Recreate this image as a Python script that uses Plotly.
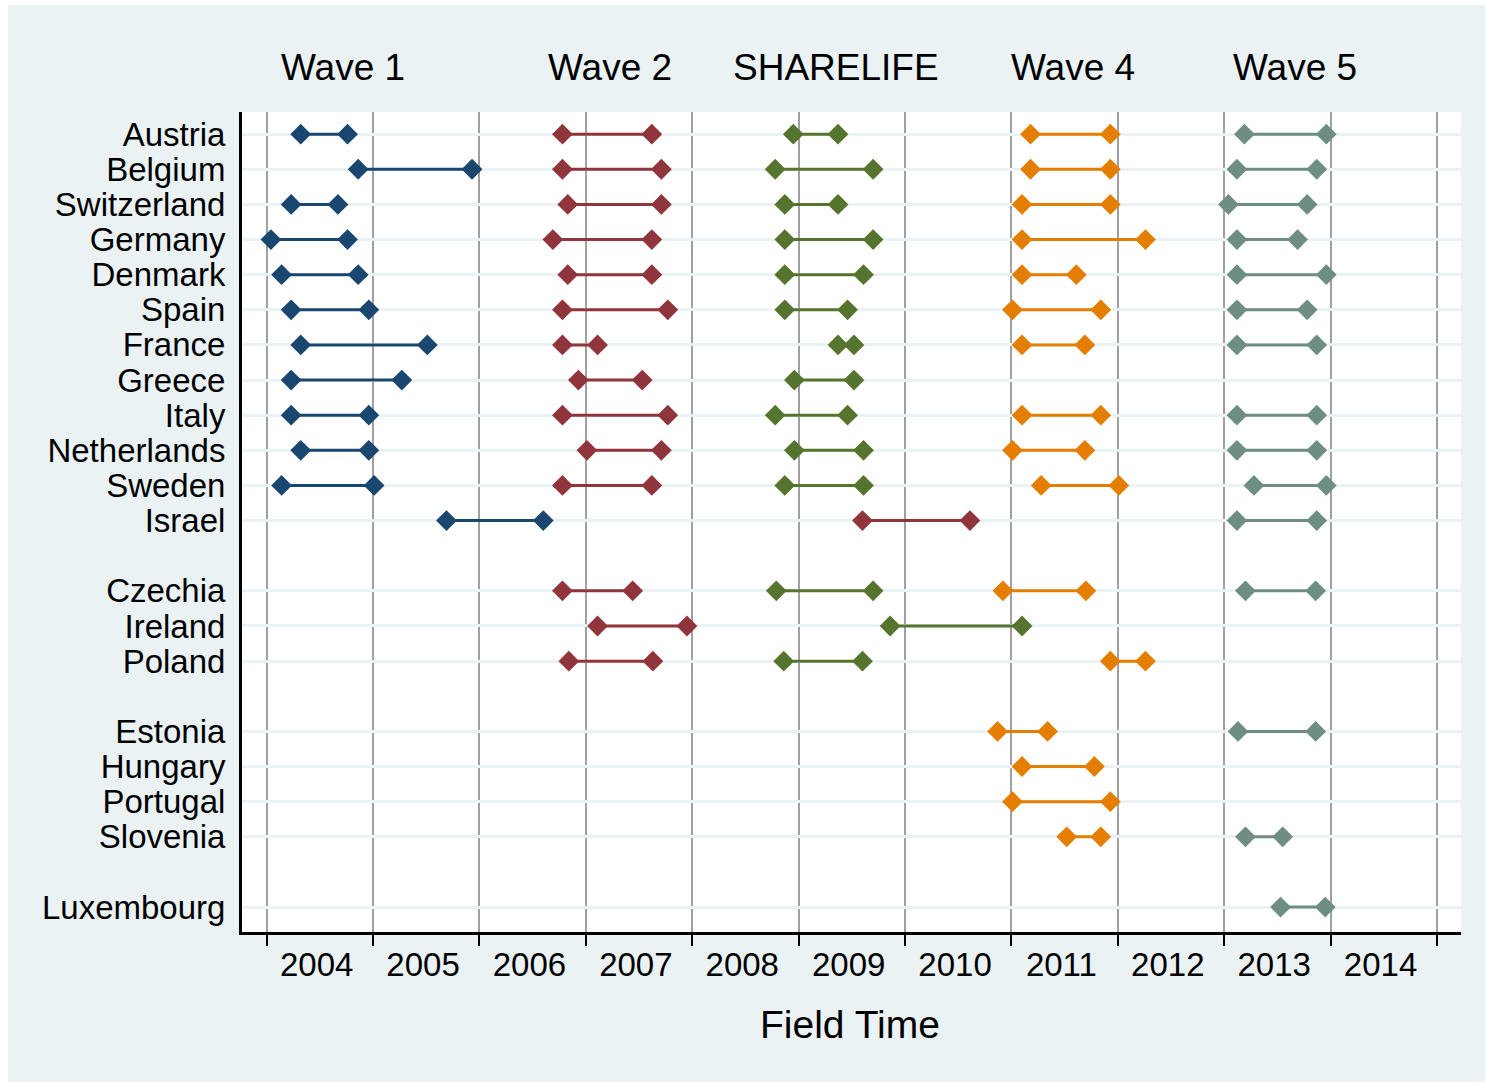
import plotly.graph_objects as go

countries = ["Austria", "Belgium", "Switzerland", "Germany", "Denmark", "Spain",
             "France", "Greece", "Italy", "Netherlands", "Sweden", "Israel",
             "Czechia", "Ireland", "Poland",
             "Estonia", "Hungary", "Portugal", "Slovenia",
             "Luxembourg"]
rows = [0, 1, 2, 3, 4, 5, 6, 7, 8, 9, 10, 11,
        13, 14, 15,
        17, 18, 19, 20,
        22]

N = None
wave1_start = [2004.32, 2004.86, 2004.23, 2004.04, 2004.14, 2004.23, 2004.32, 2004.23, 2004.23, 2004.32, 2004.14, 2005.69,
               N, N, N, N, N, N, N, N]
wave1_end = [2004.76, 2005.93, 2004.67, 2004.76, 2004.86, 2004.96, 2005.51, 2005.27, 2004.96, 2004.96, 2005.01, 2006.60,
             N, N, N, N, N, N, N, N]

wave2_start = [2006.78, 2006.78, 2006.83, 2006.69, 2006.83, 2006.78, 2006.78, 2006.93, 2006.78, 2007.01, 2006.78, 2009.60,
               2006.78, 2007.11, 2006.84, N, N, N, N, N]
wave2_end = [2007.62, 2007.71, 2007.71, 2007.62, 2007.62, 2007.77, 2007.11, 2007.53, 2007.77, 2007.71, 2007.62, 2010.61,
             2007.44, 2007.95, 2007.63, N, N, N, N, N]

sharelife_start = [2008.95, 2008.78, 2008.87, 2008.87, 2008.87, 2008.87, 2009.37, 2008.96, 2008.78, 2008.96, 2008.87, N,
                   2008.79, 2009.86, 2008.86, N, N, N, N, N]
sharelife_end = [2009.37, 2009.70, 2009.37, 2009.70, 2009.61, 2009.46, 2009.52, 2009.52, 2009.46, 2009.61, 2009.61, N,
                 2009.70, 2011.10, 2009.60, N, N, N, N, N]

wave4_start = [2011.18, 2011.18, 2011.10, 2011.10, 2011.10, 2011.01, 2011.10, N, 2011.10, 2011.01, 2011.28, N,
               2010.92, N, 2011.93, 2010.87, 2011.10, 2011.01, 2011.52, N]
wave4_end = [2011.93, 2011.93, 2011.93, 2012.26, 2011.61, 2011.84, 2011.69, N, 2011.84, 2011.69, 2012.01, N,
             2011.70, N, 2012.26, 2011.34, 2011.78, 2011.93, 2011.84, N]

wave5_start = [2013.19, 2013.12, 2013.04, 2013.12, 2013.12, 2013.12, 2013.12, N, 2013.12, 2013.12, 2013.28, 2013.12,
               2013.20, N, N, 2013.13, N, N, 2013.20, 2013.53]
wave5_end = [2013.96, 2013.87, 2013.78, 2013.69, 2013.96, 2013.78, 2013.87, N, 2013.87, 2013.87, 2013.96, 2013.87,
             2013.86, N, N, 2013.86, N, N, 2013.55, 2013.95]

wave_labels = ["Wave 1", "Wave 2", "SHARELIFE", "Wave 4", "Wave 5"]
wave_label_x = [2004.72, 2007.23, 2009.35, 2011.58, 2013.67]

year_ticks = [2004, 2005, 2006, 2007, 2008, 2009, 2010, 2011, 2012, 2013, 2014]
year_bounds = [2004, 2005, 2006, 2007, 2008, 2009, 2010, 2011, 2012, 2013, 2014, 2015]

colors = ["#1a476f", "#90353b", "#55752f", "#e37e00", "#6e8e84"]
# Israel's second wave segment (2009-2010) is drawn with the Wave 2 colour
series = [(wave1_start, wave1_end), (wave2_start, wave2_end), (sharelife_start, sharelife_end),
          (wave4_start, wave4_end), (wave5_start, wave5_end)]

FONT = "Liberation Sans, Arial, sans-serif"
fig = go.Figure()

for (st, en), col, name in zip(series, colors, wave_labels):
    xs, ys = [], []
    for s, e, r in zip(st, en, rows):
        if s is None:
            continue
        xs += [s, e, None]
        ys += [r, r, None]
    fig.add_trace(go.Scatter(
        x=xs, y=ys, mode="lines+markers", name=name,
        line=dict(color=col, width=3),
        marker=dict(symbol="diamond", size=16, color=col),
        showlegend=False, connectgaps=False,
    ))

for lab, xv in zip(wave_labels, wave_label_x):
    fig.add_annotation(x=xv, xref="x", y=1.0537, yref="paper", text=lab,
                       showarrow=False, xanchor="center", yanchor="middle",
                       font=dict(family=FONT, size=37, color="black"))

fig.add_annotation(x=0.4985, xref="paper", y=-0.1134, yref="paper", text="Field Time",
                   showarrow=False, xanchor="center", yanchor="middle",
                   font=dict(family=FONT, size=39, color="black"))

# background: light graph region with thin white border, white plot region
fig.add_shape(type="rect", xref="paper", yref="paper", x0=-0.192, x1=1.0197, y0=-0.183, y1=1.1305,
              fillcolor="#eaf2f3", line=dict(width=0), layer="below")
fig.add_shape(type="rect", xref="paper", yref="paper", x0=0, x1=1, y0=0, y1=1,
              fillcolor="white", line=dict(width=0), layer="below")

fig.update_layout(
    width=1486, height=1085,
    margin=dict(l=242, r=25, t=112, b=153),
    paper_bgcolor="white", plot_bgcolor="white",
    font=dict(family=FONT, color="black"),
    xaxis=dict(
        range=[2003.768, 2015.226],
        tickmode="array",
        tickvals=[y + 0.47 for y in year_ticks],
        ticktext=[str(y) for y in year_ticks],
        ticks="outside", ticklen=1, tickcolor="rgba(0,0,0,0)",
        tickfont=dict(family=FONT, size=33, color="black"),
        showgrid=False, zeroline=False,
        showline=True, linecolor="black", linewidth=3,
        minor=dict(tickmode="array", tickvals=year_bounds, ticks="outside", ticklen=11,
                   tickwidth=2, tickcolor="black", showgrid=True,
                   gridcolor="#a0a0a0", gridwidth=2),
    ),
    yaxis=dict(
        range=[22.71, -0.63],
        tickmode="array", tickvals=rows, ticktext=countries,
        ticks="outside", ticklen=7, tickcolor="rgba(0,0,0,0)",
        tickfont=dict(family=FONT, size=33, color="black"),
        showgrid=True, gridcolor="#eaf2f3", gridwidth=3, zeroline=False,
        showline=True, linecolor="black", linewidth=3,
    ),
)

fig.write_html("out.html", config={"displayModeBar": False},
               post_script="document.body.style.margin='0';document.body.style.overflow='hidden';")
